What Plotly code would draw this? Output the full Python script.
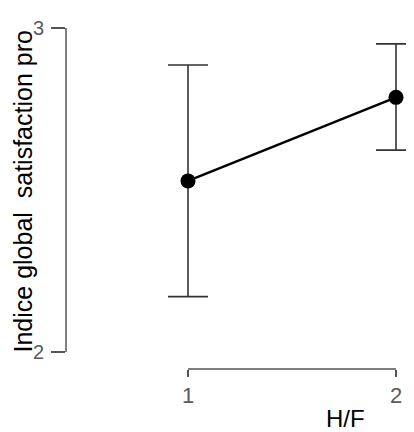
import plotly.graph_objects as go

# Data
groups = [1, 2]
means = [2.528, 2.786]
upper = [2.886, 2.951]
lower = [2.171, 2.623]
y_ticks = [2, 3]
x_ticks = [1, 2]
x_title = "H/F"
y_title = "Indice global\u00a0 satisfaction pro"

err_plus = [u - m for u, m in zip(upper, means)]
err_minus = [m - l for m, l in zip(means, lower)]

# page body has an 8px margin; the figure is sized to fill the rest of the window
OFF = 8
W, H = 414 - OFF, 432 - OFF
ML, MR, MT, MB = 66 - OFF, 0, 0, 63
pw, ph = W - ML - MR, H - MT - MB
plot_bottom = 369  # window pixel of plot-area bottom

fig = go.Figure()
fig.add_trace(go.Scatter(
    x=groups, y=means, mode="lines+markers",
    line=dict(color="black", width=2.5),
    marker=dict(color="black", size=15),
    error_y=dict(type="data", symmetric=False, array=err_plus, arrayminus=err_minus,
                 color="#333333", thickness=1.6, width=20),
    cliponaxis=False, showlegend=False,
))

axis_col = "#555555"
fig.add_shape(type="line", xref="paper", yref="y", x0=0, x1=0, y0=y_ticks[0], y1=y_ticks[-1],
              line=dict(color=axis_col, width=1.5))
fig.add_shape(type="line", xref="x", yref="paper", x0=x_ticks[0], x1=x_ticks[-1], y0=0, y1=0,
              line=dict(color=axis_col, width=1.5))

fig.update_layout(
    width=W, height=H,
    margin=dict(l=ML, r=MR, t=MT, b=MB, pad=0),
    paper_bgcolor="white", plot_bgcolor="white",
    font=dict(family="Liberation Sans, Arial, sans-serif"),
    xaxis=dict(range=[0.4135, 2.0865], tickvals=x_ticks, ticktext=[str(v) for v in x_ticks],
               showgrid=False, zeroline=False, showline=False,
               ticks="outside", ticklen=7, tickwidth=1.5, tickcolor=axis_col,
               tickfont=dict(size=22, color="#5a5a5a"), ticklabelstandoff=0),
    yaxis=dict(range=[1.9475, 3.0617], tickvals=y_ticks, ticktext=[str(v) for v in y_ticks],
               showgrid=False, zeroline=False, showline=False,
               ticks="outside", ticklen=14, tickwidth=1.5, tickcolor=axis_col,
               tickfont=dict(size=20, color="#5a5a5a"), ticklabelstandoff=3),
    annotations=[
        dict(text=x_title, xref="paper", yref="paper", x=(345 - 66) / pw, y=(plot_bottom - 418) / ph,
             xanchor="center", yanchor="middle", showarrow=False,
             font=dict(size=24, color="black")),
        dict(text=y_title, xref="paper", yref="paper", x=(23 - 66) / pw, y=(plot_bottom - 191.5) / ph,
             xanchor="center", yanchor="middle", textangle=-90, showarrow=False,
             font=dict(size=25, color="black")),
    ],
)

fig.write_html("out.html")
